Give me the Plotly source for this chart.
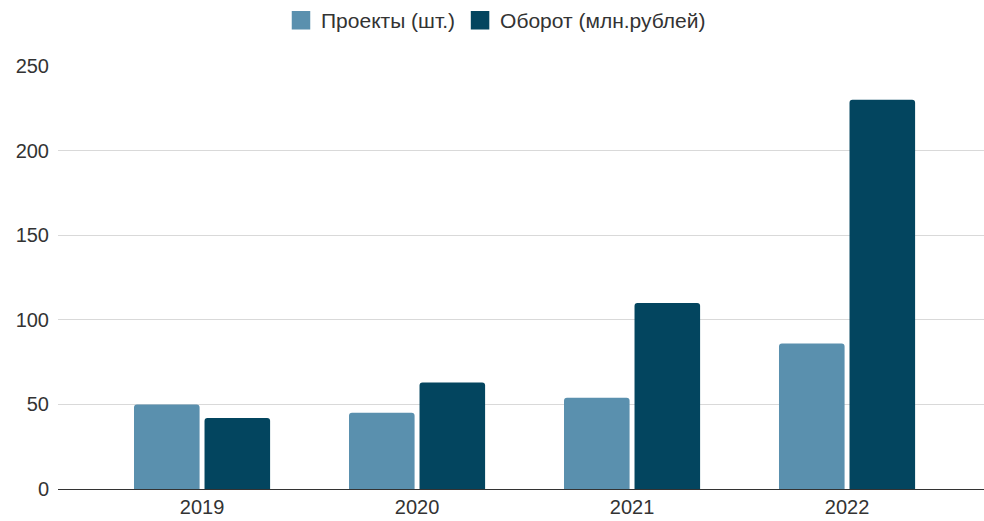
import plotly.graph_objects as go

years = ["2019", "2020", "2021", "2022"]
projects = [50, 45, 54, 86]
turnover = [42, 63, 110, 230]
series_names = ["Проекты (шт.)", "Оборот (млн.рублей)"]
series_colors = ["#5a90ae", "#03455f"]
y_ticks = [0, 50, 100, 150, 200, 250]

fig = go.Figure()
for name, vals, col in zip(series_names, [projects, turnover], series_colors):
    fig.add_trace(go.Bar(x=years, y=vals, name=name, showlegend=False,
                         marker=dict(color=col, line=dict(width=0))))
# legend entries with larger square swatches
for name, col in zip(series_names, series_colors):
    fig.add_trace(go.Scatter(x=[None], y=[None], mode="markers", name=name,
                             marker=dict(symbol="square", size=16, color=col,
                                         line=dict(width=2.5, color=col))))

fig.update_layout(
    width=984, height=521,
    margin=dict(l=58, r=0, t=66, b=32),
    paper_bgcolor="white", plot_bgcolor="white",
    font=dict(family="Liberation Sans, Arial, sans-serif", size=20, color="#333333"),
    barmode="group", bargap=0.344, bargroupgap=0.07,
    barcornerradius=3,
    legend=dict(orientation="h", x=0.473, xanchor="center", y=1.108, yanchor="middle",
                font=dict(size=21, color="#333333"), itemwidth=30,
                traceorder="normal"),
    xaxis=dict(type="category", range=[-0.67, 3.637], showgrid=False,
               showline=True, linecolor="#333333", linewidth=1, ticks="",
               tickfont=dict(size=20, color="#333333")),
    yaxis=dict(range=[0, 250], tickvals=y_ticks, showgrid=True, gridcolor="#d9d9d9",
               gridwidth=1, zeroline=False, showline=False, ticks="",
               ticklabelstandoff=8, tickfont=dict(size=20, color="#333333")),
)

fig.write_html("out.html", config={"displayModeBar": False},
               post_script="document.body.style.margin='0';")
